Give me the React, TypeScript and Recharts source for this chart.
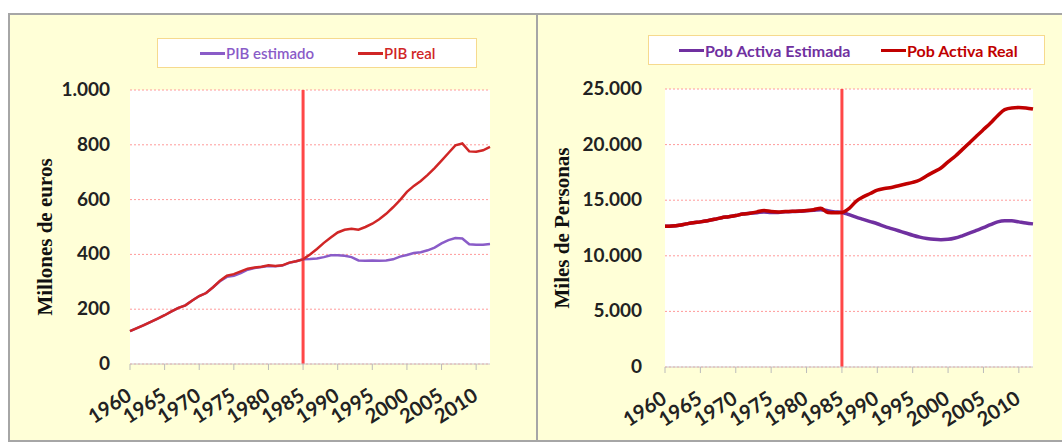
import { LineChart, Line, XAxis, YAxis, CartesianGrid, ReferenceLine, Legend } from "recharts";

// años 1960-2012
const years = [
  1960, 1961, 1962, 1963, 1964, 1965, 1966, 1967, 1968, 1969,
  1970, 1971, 1972, 1973, 1974, 1975, 1976, 1977, 1978, 1979,
  1980, 1981, 1982, 1983, 1984, 1985, 1986, 1987, 1988, 1989,
  1990, 1991, 1992, 1993, 1994, 1995, 1996, 1997, 1998, 1999,
  2000, 2001, 2002, 2003, 2004, 2005, 2006, 2007, 2008, 2009,
  2010, 2011, 2012,
];

// millones de euros
const pibReal = [
  120, 131, 142, 154, 166, 178, 192, 205, 214, 232,
  248, 259, 280, 304, 322, 328, 338, 348, 352, 355,
  360, 358, 360, 370, 375, 382, 400, 420, 442, 462,
  480, 490, 494, 490, 500, 512, 528, 548, 572, 598,
  628, 650, 668, 690, 715, 742, 770, 798, 805, 776,
  775, 780, 792,
];
const pibEstimado = [
  120, 131, 142, 154, 166, 178, 192, 205, 214, 232,
  248, 259, 280, 302, 318, 322, 332, 344, 350, 354,
  358, 357, 359, 369, 375, 382, 383, 385, 390, 397,
  397, 395, 390, 378, 377, 378, 377, 378, 382, 392,
  398, 405, 408, 415, 425, 440, 452, 460, 458, 437,
  435, 435, 438,
];

// miles de personas
const pobReal = [
  12650, 12680, 12750, 12870, 12980, 13050, 13150, 13280, 13430, 13520,
  13620, 13750, 13820, 13950, 14080, 13980, 13950, 13990, 14000, 14030,
  14070, 14150, 14270, 13900, 13880, 13900, 14250, 14900, 15300, 15600,
  15900, 16050, 16150, 16300, 16450, 16600, 16820, 17200, 17550, 17900,
  18450, 18950, 19550, 20150, 20750, 21350, 21950, 22600, 23150, 23300,
  23330, 23300, 23200,
];
const pobEstimada = [
  12650, 12680, 12750, 12870, 12980, 13050, 13150, 13280, 13430, 13520,
  13620, 13750, 13820, 13880, 13950, 13900, 13900, 13950, 13980, 14000,
  14050, 14100, 14150, 14050, 13950, 13900, 13700, 13480, 13280, 13080,
  12880, 12650, 12450, 12250, 12050, 11850, 11680, 11560, 11480, 11450,
  11480, 11600, 11800, 12030, 12280, 12530, 12800, 13050, 13150, 13150,
  13050, 12950, 12870,
];

const pibTicks = [0, 200, 400, 600, 800, 1000];
const pobTicks = [0, 5000, 10000, 15000, 20000, 25000];
const corte = 1985;

const pibData = years.map((year, i) => ({ year, estimado: pibEstimado[i], real: pibReal[i] }));
const pobData = years.map((year, i) => ({ year, estimada: pobEstimada[i], real: pobReal[i] }));

const tickFont = "Lato, 'Open Sans', sans-serif";
const fmt = (v: number) => String(v).replace(/\B(?=(\d{3})+(?!\d))/g, ".");

function YTick(props: any) {
  const { y, payload, anchorX } = props;
  return (
    <text x={anchorX} y={y} dy={6} textAnchor="end" fontFamily={tickFont} fontWeight={700} fontSize={19} fill="#222">
      {fmt(payload.value)}
    </text>
  );
}

function XTick(props: any) {
  const { x, payload, baseY } = props;
  return (
    <g transform={`translate(${x + 3},${baseY})`}>
      <text textAnchor="end" transform="rotate(-33)" fontFamily={tickFont} fontWeight={700} fontSize={20} fill="#222">
        {payload.value}
      </text>
    </g>
  );
}

function AxisTitle(props: any) {
  const { viewBox, value, cx, shift } = props;
  const cy = viewBox.y + viewBox.height / 2 + (shift || 0);
  return (
    <text
      x={cx}
      y={cy}
      transform={`rotate(-90,${cx},${cy})`}
      textAnchor="middle"
      dominantBaseline="central"
      fontFamily="'Liberation Serif', 'Times New Roman', serif"
      fontWeight={700}
      fontSize={21}
      fill="#111"
    >
      {value}
    </text>
  );
}

function LegendBox(props: any) {
  const { width, items, weight, size } = props;
  return (
    <div
      style={{
        position: "relative",
        width,
        height: 30,
        boxSizing: "border-box",
        background: "#fff",
        border: "1px solid #F6DA8E",
      }}
    >
      {items.map((it: any) => (
        <div
          key={it.label}
          style={{ position: "absolute", left: it.left, top: 0, height: 28, display: "flex", alignItems: "center" }}
        >
          <span style={{ display: "inline-block", width: 25, height: 3, background: it.color }} />
          <span
            style={{ color: it.color, fontFamily: tickFont, fontWeight: weight, fontSize: size, marginLeft: 1, whiteSpace: "nowrap" }}
          >
            {it.label}
          </span>
        </div>
      ))}
    </div>
  );
}

export default function App() {
  return (
    <div style={{ position: "absolute", left: 0, top: 0, width: 1062, height: 442, overflow: "hidden", background: "#fff" }}>
      <div
        style={{
          position: "absolute",
          left: 8,
          top: 13,
          width: 1070,
          height: 425,
          background: "#FFFFD7",
          borderTop: "2px solid #A6A6A6",
          borderLeft: "2px solid #A6A6A6",
          borderBottom: "2px solid #A6A6A6",
        }}
      />
      <div style={{ position: "absolute", left: 536, top: 13, width: 2, height: 427, background: "#A6A6A6" }} />

      <div style={{ position: "absolute", left: 8, top: 14 }}>
        <LineChart width={529} height={426} data={pibData} margin={{ top: 76, right: 47, left: 0, bottom: 0 }}>
          <CartesianGrid vertical={false} fill="#fff" stroke="#FF9A9A" strokeDasharray="2 2" />
          <XAxis
            dataKey="year"
            interval={4}
            height={76}
            axisLine={{ stroke: "#C8C8C8" }}
            tickLine={{ stroke: "#BBBBBB" }}
            tickSize={6}
            tick={<XTick baseY={385} />}
          />
          <YAxis
            domain={[0, 1000]}
            ticks={pibTicks}
            width={122}
            axisLine={false}
            tickLine={false}
            tick={<YTick anchorX={102} />}
            label={<AxisTitle value="Millones de euros" cx={37} shift={10} />}
          />
          <ReferenceLine x={corte} stroke="#FF4747" strokeWidth={3} />
          <Legend
            verticalAlign="middle"
            align="center"
            wrapperStyle={{ top: 24, left: 149, width: 320, height: 30 }}
            content={() => (
              <LegendBox
                width={320}
                weight={600}
                size={15}
                items={[
                  { label: "PIB estimado", color: "#8A5CC8", left: 42 },
                  { label: "PIB real", color: "#D02626", left: 200 },
                ]}
              />
            )}
          />
          <Line type="linear" dataKey="estimado" stroke="#8A5CC8" strokeWidth={2.5} dot={false} isAnimationActive={false} />
          <Line type="linear" dataKey="real" stroke="#D02626" strokeWidth={2.5} dot={false} isAnimationActive={false} />
        </LineChart>
      </div>

      <div style={{ position: "absolute", left: 537, top: 14 }}>
        <LineChart width={525} height={426} data={pobData} margin={{ top: 75, right: 29, left: 0, bottom: 0 }}>
          <CartesianGrid vertical={false} fill="#fff" stroke="#FF9A9A" strokeDasharray="2 2" />
          <XAxis
            dataKey="year"
            interval={4}
            height={73}
            axisLine={{ stroke: "#C8C8C8" }}
            tickLine={{ stroke: "#BBBBBB" }}
            tickSize={6}
            tick={<XTick baseY={388} />}
          />
          <YAxis
            domain={[0, 25000]}
            ticks={pobTicks}
            width={128}
            axisLine={false}
            tickLine={false}
            tick={<YTick anchorX={105} />}
            label={<AxisTitle value="Miles de Personas" cx={25} shift={0} />}
          />
          <ReferenceLine x={corte} stroke="#FF4747" strokeWidth={3} />
          <Legend
            verticalAlign="middle"
            align="center"
            wrapperStyle={{ top: 21, left: 111, width: 397, height: 30 }}
            content={() => (
              <LegendBox
                width={397}
                weight={700}
                size={16}
                items={[
                  { label: "Pob Activa Estimada", color: "#7030A0", left: 30 },
                  { label: "Pob Activa Real", color: "#C00000", left: 232 },
                ]}
              />
            )}
          />
          <Line type="monotone" dataKey="estimada" stroke="#7030A0" strokeWidth={3.5} dot={false} isAnimationActive={false} />
          <Line type="monotone" dataKey="real" stroke="#C00000" strokeWidth={3.5} dot={false} isAnimationActive={false} />
        </LineChart>
      </div>
    </div>
  );
}
